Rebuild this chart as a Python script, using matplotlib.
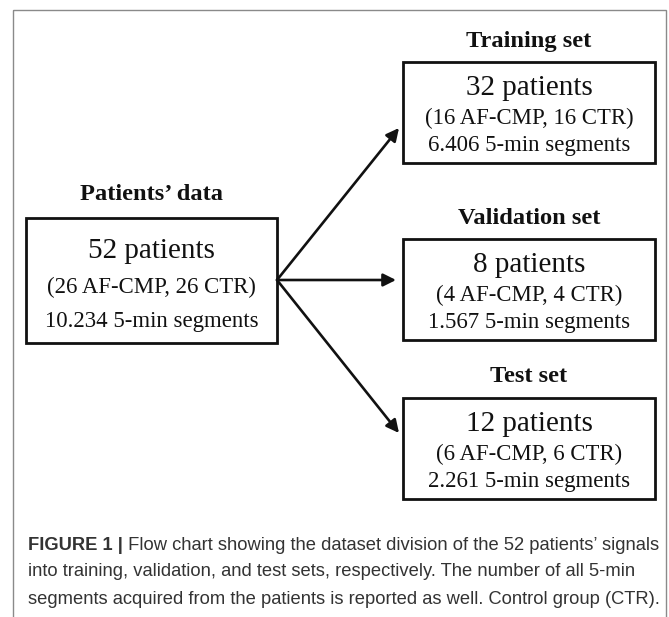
import matplotlib
matplotlib.use("Agg")
import matplotlib.pyplot as plt
from matplotlib.patches import Rectangle

# Contenido del diagrama
source_title = "Patients\u2019 data"
source_lines = ["52 patients", "(26 AF-CMP, 26 CTR)", "10.234 5-min segments"]

set_titles = ["Training set", "Validation set", "Test set"]
set_patients = [32, 8, 12]
set_af = [16, 4, 6]
set_ctr = [16, 4, 6]
set_segments = ["6.406", "1.567", "2.261"]

caption_bold = "FIGURE 1 |"
caption_lines = [
    " Flow chart showing the dataset division of the 52 patients\u2019 signals",
    "into training, validation, and test sets, respectively. The number of all 5-min",
    "segments acquired from the patients is reported as well. Control group (CTR).",
]

W, H = 669, 617
fig = plt.figure(figsize=(W / 100, H / 100), dpi=100)
ax = fig.add_axes([0, 0, 1, 1])
ax.set_xlim(0, W)
ax.set_ylim(H, 0)
ax.axis("off")

serif = "Liberation Serif"
sans = "Liberation Sans"

# marco exterior
ax.add_patch(Rectangle((13, 10), 653, 700, fill=False, ec="#8a8a8a", lw=1.0))


def box(x0, y0, x1, y1, title, lines, title_y):
    ax.add_patch(Rectangle((x0, y0), x1 - x0, y1 - y0, fill=False, ec="#111111", lw=2.0))
    cx = (x0 + x1) / 2
    ax.text(cx, title_y, title, ha="center", va="center", family=serif,
            fontweight="bold", fontsize=17.6, color="#111111")
    offs = [y0 + 0.26 * (y1 - y0), y0 + 0.555 * (y1 - y0), y0 + 0.825 * (y1 - y0)]
    sizes = [21, 16.4, 16.4]
    for ln, yy, fs in zip(lines, offs, sizes):
        ax.text(cx, yy, ln, ha="center", va="center", family=serif,
                fontsize=fs, color="#111111")


# caja de origen
box(26, 218, 277, 343, source_title, source_lines, 195)

# cajas de destino
tops = [62, 239, 398]
title_ys = [41, 218, 377]
tips = [(399, 128), (396, 280), (399, 433)]
origin = (277, 280)
for i in range(3):
    lines = [
        f"{set_patients[i]} patients",
        f"({set_af[i]} AF-CMP, {set_ctr[i]} CTR)",
        f"{set_segments[i]} 5-min segments",
    ]
    box(403, tops[i], 655, tops[i] + 101, set_titles[i], lines, title_ys[i])
    ax.annotate("", xy=tips[i], xytext=origin,
                arrowprops=dict(arrowstyle="-|>", color="#111111", lw=1.9,
                                mutation_scale=19, shrinkA=0, shrinkB=0))

# pie de figura
cap_fs = 13.2
t = ax.text(28, 545, caption_bold, ha="left", va="center", family=sans,
            fontweight="bold", fontsize=cap_fs, color="#333333")
fig.canvas.draw()
bb = t.get_window_extent()
ax.text(28 + bb.width, 545, caption_lines[0], ha="left", va="center",
        family=sans, fontsize=cap_fs, color="#333333")
ax.text(28, 572, caption_lines[1], ha="left", va="center", family=sans,
        fontsize=cap_fs, color="#333333")
ax.text(28, 599, caption_lines[2], ha="left", va="center", family=sans,
        fontsize=cap_fs, color="#333333")

fig.savefig("out.png", dpi=100)
